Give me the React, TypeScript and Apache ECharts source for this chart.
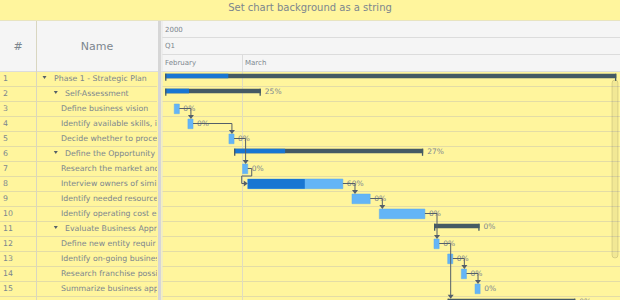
import React, { useEffect, useRef } from "react";
import * as echarts from "echarts";

const FONT = "DejaVu Sans";
const chartTitle = "Set chart background as a string";
const columnTitles = ["#", "Name"];

// ---- task data (times shown on the timeline, year 2000) ----
const rowIds = [1, 2, 3, 4, 5, 6, 7, 8, 9, 10, 11, 12, 13, 14, 15, 16];
const taskNames = [
  "Phase 1 - Strategic Plan",
  "Self-Assessment",
  "Define business vision",
  "Identify available skills, information and support",
  "Decide whether to proceed",
  "Define the Opportunity",
  "Research the market and competition",
  "Interview owners of similar businesses",
  "Identify needed resources",
  "Identify operating cost elements",
  "Evaluate Business Approach",
  "Define new entity requirements",
  "Identify on-going business purchase opportunities",
  "Research franchise possibilities",
  "Summarize business approach",
  "",
];
const taskLevels = [0, 1, 2, 2, 2, 1, 2, 2, 2, 2, 1, 2, 2, 2, 2, 1];
const taskIsParent = [true, true, false, false, false, true, false, false, false, false, true, false, false, false, false, true];
const taskStarts = [
  "02-24 09:00", "02-24 09:00", "02-25 01:00", "02-26 01:00", "02-29 01:00",
  "02-29 10:00", "03-01 01:00", "03-01 10:00", "03-09 01:00", "03-11 01:00",
  "03-15 01:00", "03-15 01:00", "03-16 01:00", "03-17 01:00", "03-18 01:00",
  "03-16 01:00",
];
const taskEnds = [
  "03-28 09:00", "03-02 09:00", "02-25 10:00", "02-26 10:00", "02-29 10:00",
  "03-14 06:00", "03-01 10:00", "03-08 09:00", "03-10 09:00", "03-14 09:00",
  "03-18 09:00", "03-15 10:00", "03-16 10:00", "03-17 10:00", "03-18 10:00",
  "03-25 09:00",
];
const taskProgress = [14, 25, 0, 0, 0, 27, 0, 60, 0, 0, 0, 0, 0, 0, 0, 0];
const linkFrom = [3, 4, 5, 7, 8, 9, 10, 12, 13, 14];
const linkTo = [4, 5, 7, 8, 9, 10, 12, 16, 14, 15];

// ---- timeline header ----
const headerYears = ["2000"];
const yearStarts = ["01-01 00:00"];
const yearEnds = ["12-31 23:59"];
const headerQuarters = ["Q1"];
const quarterStarts = ["01-01 00:00"];
const quarterEnds = ["04-01 00:00"];
const headerMonths = ["February", "March"];
const monthStarts = ["02-01 00:00", "03-01 00:00"];
const monthEnds = ["03-01 00:00", "04-01 00:00"];
const axisStart = "02-24 03:30";
const axisEnd = "03-28 15:30";

const toTime = (s: string) => {
  const [md, hm] = s.split(" ");
  const [m, d] = md.split("-").map(Number);
  const [h, mi] = hm.split(":").map(Number);
  return Date.UTC(2000, m - 1, d, h, mi);
};

const BG = "#fff59d";
const HEADER_BG = "#f5f5f5";
const HEADER_LINE = "#dcdcdc";
const ROW_LINE = "#e3dca6";
const TEXT = "#7c868e";
const TASK = "#64b5f6";
const PROGRESS = "#1976d2";
const SUMMARY = "#455a64";
const LINK = "#545f69";

export default function App() {
  const ref = useRef<HTMLDivElement>(null);
  useEffect(() => {
    document.body.style.margin = "0";
    document.body.style.overflow = "hidden";
    document.documentElement.style.overflow = "hidden";
    const chart = echarts.init(ref.current!, null, { renderer: "svg" });
    const starts = taskStarts.map(toTime);
    const ends = taskEnds.map(toTime);
    const cats = rowIds.map(String);

    const headerCells: { label: string; start: number; end: number; level: number }[] = [];
    headerYears.forEach((l, k) => headerCells.push({ label: l, start: toTime(yearStarts[k]), end: toTime(yearEnds[k]), level: 0 }));
    headerQuarters.forEach((l, k) => headerCells.push({ label: l, start: toTime(quarterStarts[k]), end: toTime(quarterEnds[k]), level: 1 }));
    headerMonths.forEach((l, k) => headerCells.push({ label: l, start: toTime(monthStarts[k]), end: toTime(monthEnds[k]), level: 2 }));
    const headerTops = [21, 37, 54];
    const headerHs = [16, 17, 17];

    const yAxisBase = {
      type: "category",
      data: cats,
      inverse: true,
      axisLine: { show: false },
      axisTick: { show: false, interval: 0 },
      axisLabel: { show: false, interval: 0 },
      splitLine: { show: true, interval: 0, lineStyle: { color: ROW_LINE, width: 1 } },
    };

    const option: any = {
      animation: false,
      backgroundColor: BG,
      title: {
        text: chartTitle,
        left: "center",
        top: 2,
        padding: 0,
        textStyle: { fontSize: 10, fontWeight: "normal", color: TEXT, fontFamily: FONT },
      },
      grid: [
        { left: 162, top: 71, width: 458, height: 240 },
        { left: 0, top: 71, width: 157, height: 240 },
      ],
      xAxis: [
        { type: "time", gridIndex: 0, min: toTime(axisStart), max: toTime(axisEnd), show: false },
        { type: "value", gridIndex: 1, min: 0, max: 157, show: false },
      ],
      yAxis: [
        { ...yAxisBase, gridIndex: 0 },
        { ...yAxisBase, gridIndex: 1 },
      ],
      graphic: [
        { type: "rect", z: -1, shape: { x: 0, y: 21, width: 620, height: 50 }, style: { fill: HEADER_BG } },
        { type: "line", z: 1, shape: { x1: 0, y1: 20.5, x2: 620, y2: 20.5 }, style: { stroke: "#e8e4c0", lineWidth: 1 } },
        { type: "line", z: 1, shape: { x1: 0, y1: 71.5, x2: 620, y2: 71.5 }, style: { stroke: HEADER_LINE, lineWidth: 1 } },
        { type: "line", z: 1, shape: { x1: 36.5, y1: 21, x2: 36.5, y2: 312 }, style: { stroke: "#d9d6c0", lineWidth: 1 } },
        { type: "rect", z: 5, shape: { x: 158, y: 21, width: 3, height: 291 }, style: { fill: "#d6d6d6" } },
        { type: "line", z: 5, shape: { x1: 162, y1: 21, x2: 162, y2: 312 }, style: { stroke: "#e6e6e6", lineWidth: 1 } },
        {
          type: "text", z: 5, x: 18, y: 46,
          style: { text: columnTitles[0], fontSize: 11, fontFamily: FONT, fill: TEXT, align: "center", verticalAlign: "middle" },
        },
        {
          type: "text", z: 5, x: 97, y: 46,
          style: { text: columnTitles[1], fontSize: 11, fontFamily: FONT, fill: TEXT, align: "center", verticalAlign: "middle" },
        },
        {
          type: "rect", z: 20, shape: { x: 612, y: 80, width: 6, height: 178, r: 3 },
          style: { fill: "rgba(0,0,0,0.05)", stroke: "rgba(0,0,0,0.12)", lineWidth: 1 },
        },
      ],
      series: [
        {
          type: "custom",
          name: "header",
          xAxisIndex: 0,
          yAxisIndex: 0,
          clip: false,
          z: 1,
          data: headerCells.map((c) => [c.start, c.end, c.level]),
          encode: { x: [0, 1], y: 2 },
          renderItem: (params: any, api: any) => {
            const cs = params.coordSys;
            const cell = headerCells[params.dataIndex];
            const xs = api.coord([cell.start, 0])[0];
            const xe = api.coord([cell.end, 0])[0];
            const x0 = Math.max(xs, cs.x);
            const x1 = Math.min(xe, cs.x + cs.width);
            if (x1 <= x0) return null;
            const top = headerTops[cell.level];
            const h = headerHs[cell.level];
            const children: any[] = [
              { type: "line", shape: { x1: x0, y1: top + h + 0.5, x2: x1, y2: top + h + 0.5 }, style: { stroke: HEADER_LINE, lineWidth: 1 } },
              {
                type: "text", x: x0 + 3, y: top + h / 2 + 0.5,
                style: { text: cell.label, fontSize: 7, fontFamily: FONT, fill: TEXT, align: "left", verticalAlign: "middle" },
              },
            ];
            if (xs > cs.x) {
              const vx = Math.round(xs) + 0.5;
              children.push({ type: "line", shape: { x1: vx, y1: top, x2: vx, y2: top + h }, style: { stroke: HEADER_LINE, lineWidth: 1 } });
              if (cell.level === 2) {
                children.push({ type: "line", shape: { x1: vx, y1: cs.y, x2: vx, y2: cs.y + cs.height }, style: { stroke: "#e0dcc0", lineWidth: 1 } });
              }
            }
            return { type: "group", children };
          },
        },
        {
          type: "custom",
          name: "tasks",
          xAxisIndex: 0,
          yAxisIndex: 0,
          clip: false,
          z: 3,
          data: rowIds.map((id, i) => [starts[i], ends[i], i]),
          encode: { x: [0, 1], y: 2 },
          renderItem: (params: any, api: any) => {
            const cs = params.coordSys;
            const i = params.dataIndex;
            const s = api.coord([starts[i], i]);
            const e = api.coord([ends[i], i]);
            const rowH = api.size([0, 1])[1];
            const top = s[1] - rowH / 2;
            const w = e[0] - s[0];
            const p = taskProgress[i] / 100;
            const children: any[] = [];
            let labelY = s[1];
            if (taskIsParent[i]) {
              const by = top + 2.7;
              const bh = 4.6;
              children.push({ type: "rect", shape: { x: s[0], y: by, width: w, height: bh }, style: { fill: SUMMARY } });
              if (p > 0) children.push({ type: "rect", shape: { x: s[0], y: by, width: w * p, height: bh }, style: { fill: PROGRESS } });
              children.push({ type: "rect", shape: { x: s[0], y: by, width: 1.3, height: bh + 2.5 }, style: { fill: SUMMARY } });
              children.push({ type: "rect", shape: { x: e[0] - 1.3, y: by, width: 1.3, height: bh + 2.5 }, style: { fill: SUMMARY } });
              labelY = by + bh / 2 + 0.5;
            } else {
              const by = top + 3;
              const bh = 9.7;
              children.push({ type: "rect", shape: { x: s[0], y: by, width: w, height: bh }, style: { fill: TASK, stroke: "#5aaaf0", lineWidth: 0.5 } });
              if (p > 0) children.push({ type: "rect", shape: { x: s[0], y: by, width: w * p, height: bh }, style: { fill: PROGRESS } });
            }
            const lx = e[0] + 4;
            if (lx < cs.x + cs.width - 12) {
              children.push({
                type: "text", x: lx, y: labelY,
                style: { text: taskProgress[i] + "%", fontSize: 7.5, fontFamily: FONT, fill: TEXT, align: "left", verticalAlign: "middle" },
              });
            }
            return { type: "group", children };
          },
        },
        {
          type: "custom",
          name: "links",
          xAxisIndex: 0,
          yAxisIndex: 0,
          clip: false,
          z: 4,
          data: linkFrom.map((f, k) => [ends[f - 1], f - 1, starts[linkTo[k] - 1], linkTo[k] - 1]),
          encode: { x: [0, 2], y: [1, 3] },
          renderItem: (params: any, api: any) => {
            const k = params.dataIndex;
            const f = linkFrom[k] - 1;
            const t = linkTo[k] - 1;
            const pe = api.coord([ends[f], f]);
            const ss = api.coord([starts[t], t]);
            const rowH = api.size([0, 1])[1];
            const succTop = ss[1] - rowH / 2 + (taskIsParent[t] ? 2.7 : 3);
            const style = { stroke: LINK, lineWidth: 1, fill: "none" };
            const children: any[] = [];
            if (ss[0] - pe[0] >= 3) {
              const vx = ss[0] + 3;
              children.push({ type: "polyline", shape: { points: [[pe[0], pe[1]], [vx, pe[1]], [vx, succTop - 3]] }, style });
              children.push({ type: "polygon", shape: { points: [[vx - 3, succTop - 4], [vx + 3, succTop - 4], [vx, succTop]] }, style: { fill: LINK } });
            } else {
              const rb = pe[1] + rowH / 2;
              const lx = ss[0] - 6;
              children.push({
                type: "polyline",
                shape: { points: [[pe[0], pe[1]], [pe[0] + 4, pe[1]], [pe[0] + 4, rb], [lx, rb], [lx, ss[1]], [ss[0] - 3, ss[1]]] },
                style,
              });
              children.push({ type: "polygon", shape: { points: [[ss[0] - 4, ss[1] - 3], [ss[0] - 4, ss[1] + 3], [ss[0], ss[1]]] }, style: { fill: LINK } });
            }
            return { type: "group", children };
          },
        },
        {
          type: "custom",
          name: "table",
          xAxisIndex: 1,
          yAxisIndex: 1,
          clip: true,
          z: 3,
          data: rowIds.map((id, i) => [0, i]),
          encode: { x: 0, y: 1 },
          renderItem: (params: any, api: any) => {
            const cs = params.coordSys;
            const i = params.dataIndex;
            if (!taskNames[i]) return null;
            const c = api.coord([0, i]);
            const x0 = c[0];
            const yc = c[1];
            const lvl = taskLevels[i];
            const children: any[] = [
              {
                type: "text", x: x0 + 3, y: yc,
                style: { text: String(rowIds[i]), fontSize: 7.8, fontFamily: FONT, fill: TEXT, align: "left", verticalAlign: "middle" },
              },
            ];
            let tx;
            if (taskIsParent[i]) {
              const bx = x0 + 44.5 + 11.3 * lvl;
              const byc = yc - 1;
              children.push({ type: "polygon", shape: { points: [[bx - 2, byc - 1.6], [bx + 2, byc - 1.6], [bx, byc + 1.6]] }, style: { fill: "#545f69" } });
              tx = x0 + 54 + 11 * lvl;
            } else {
              tx = x0 + 39 + 11 * lvl;
            }
            children.push({
              type: "text", x: tx, y: yc,
              style: {
                text: taskNames[i], fontSize: 7.8, fontFamily: FONT, fill: TEXT, align: "left", verticalAlign: "middle",
                width: cs.x + cs.width + 4 - tx, overflow: "truncate", ellipsis: "",
              },
            });
            return { type: "group", children };
          },
        },
      ],
    };
    chart.setOption(option);
    return () => chart.dispose();
  }, []);
  return <div ref={ref} style={{ width: 620, height: 312 }} />;
}
